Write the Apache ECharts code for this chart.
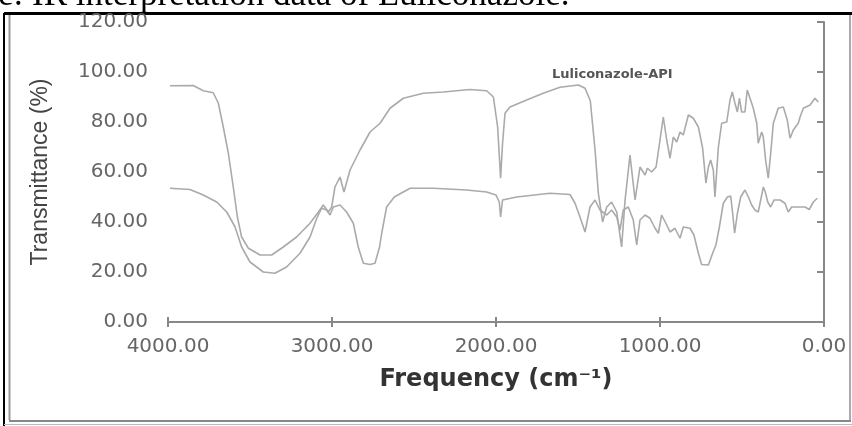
<!DOCTYPE html>
<html>
<head>
<meta charset="utf-8">
<script src="https://cdn.jsdelivr.net/npm/echarts@6/dist/echarts.min.js"></script>
<style>
  html, body { margin: 0; padding: 0; background: #fff; }
  #irChart { width: 852px; height: 426px; }
</style>
</head>
<body>
<div id="irChart"></div>
<script>
// upper trace (Luliconazole API)
const apiFreq = [3988, 3846, 3785, 3724, 3693, 3663, 3632, 3602, 3577, 3551, 3510, 3439, 3368, 3297, 3216, 3134, 3083, 3053, 3022, 3002,
  2982, 2951, 2927, 2890, 2829, 2768, 2707, 2646, 2565, 2443, 2321, 2159, 2057, 2016, 1990, 1972, 1960, 1945, 1915, 1813,
  1712, 1610, 1498, 1457, 1425, 1396, 1376, 1350, 1325, 1295, 1264, 1234, 1213, 1183, 1152, 1122, 1091, 1077, 1051, 1024,
  1000, 980, 959, 939, 919, 898, 878, 858, 827, 797, 766, 740, 720, 705, 691, 675, 665, 644, 624, 593,
  573, 559, 543, 528, 516, 502, 482, 468, 451, 431, 410, 401, 380, 370, 356, 340, 325, 309, 279, 248,
  224, 207, 187, 157, 146, 126, 85, 55, 35];
const apiT = [94.5, 94.6, 92.5, 91.7, 87.5, 78, 67.5, 54, 42, 34, 29.5, 26.8, 26.8, 30, 34, 39.5, 44, 46.8, 44, 46,
  54, 58, 52, 60.8, 68.8, 76, 79.5, 85.5, 89.5, 91.5, 92, 93, 92.5, 90, 78, 57.5, 71.5, 83.5, 86, 88.8,
  91.5, 93.9, 94.8, 93.5, 88.5, 68.8, 51.5, 40, 46, 48, 44, 30, 48.8, 66.8, 48.8, 62, 58.8, 61.5, 60, 62,
  72.8, 82, 72.8, 65.5, 74, 72, 76, 74.8, 82.8, 81.5, 78, 69.5, 55.5, 62, 64.8, 60.8, 50, 70, 79.5, 80,
  88.8, 92, 87.5, 84, 89.5, 84, 84, 92.8, 89.5, 85.5, 79.5, 71.5, 76, 74, 64.8, 57.5, 67.5, 79.5, 85.5, 86,
  80.8, 73.5, 76.8, 79.5, 82, 85.5, 86.8, 89.5, 88];

// lower trace
const lowFreq = [3988, 3866, 3785, 3703, 3642, 3591, 3551, 3500, 3419, 3348, 3277, 3195, 3134, 3093, 3063, 3033, 3012, 2992, 2951, 2911,
  2870, 2840, 2809, 2768, 2738, 2710, 2697, 2667, 2620, 2524, 2382, 2179, 2057, 2000, 1980, 1972, 1960, 1874, 1671, 1549,
  1518, 1488, 1457, 1427, 1396, 1366, 1325, 1295, 1264, 1244, 1224, 1193, 1163, 1142, 1122, 1091, 1061, 1030, 1010, 990,
  959, 939, 909, 878, 858, 817, 793, 766, 746, 705, 695, 679, 659, 638, 614, 589, 569, 557, 545, 528,
  508, 482, 461, 441, 421, 401, 386, 370, 358, 343, 325, 305, 268, 238, 218, 197, 157, 116, 90, 65, 41];
const lowT = [53.5, 53, 50.8, 48, 44, 38, 30, 24, 20, 19.5, 22, 27.5, 34, 41.5, 45.5, 44.8, 42.8, 46, 46.8, 44,
  39.5, 30, 23.5, 23, 23.5, 30, 35.5, 46, 50, 53.5, 53.5, 52.8, 52, 50.8, 48, 42, 48.8, 50, 51.5, 51,
  47.5, 42, 36, 46, 48.8, 44.8, 42.8, 44.8, 42, 36.8, 44.8, 46, 40.8, 30.8, 40.8, 42.8, 41.5, 37.5, 35.5, 42.8,
  38.8, 36, 37.5, 33.5, 38, 37.5, 34.8, 27.5, 23, 22.8, 23.2, 27.5, 30.8, 38, 47.5, 50, 50.4, 43.5, 35.5, 43.5,
  50, 52.8, 50, 46.8, 44.8, 44, 48.8, 54, 52, 48, 46, 48.8, 48.8, 47.5, 44, 46, 46, 46, 45, 48, 49.5];

const chart = echarts.init(document.getElementById('irChart'));
const zip = (xs, ys) => xs.map((x, i) => [x, ys[i]]);
const fmt = v => v.toFixed(2);
const lineColor = '#aaa';

const option = {
  backgroundColor: '#fff',
  animation: false,
  grid: { left: 168, right: 28, top: 22, bottom: 104 },
  title: {
    text: 'Luliconazole-API',
    left: 547,
    top: 63,
    textStyle: { fontFamily: 'DejaVu Sans', fontSize: 13, fontWeight: 'bold', color: '#555' },
  },
  xAxis: [
    {
      type: 'value',
      inverse: true,
      min: 0,
      max: 4000,
      interval: 1000,
      name: 'Frequency (cm\u207B\u00B9)',
      nameLocation: 'middle',
      nameGap: 46,
      nameTextStyle: { fontFamily: 'DejaVu Sans', fontSize: 24, fontWeight: 'bold', color: '#333' },
      axisLine: { lineStyle: { color: '#888', width: 2 } },
      axisTick: { length: 5, lineStyle: { color: '#888', width: 2 } },
      axisLabel: { formatter: fmt, margin: 15, fontFamily: 'DejaVu Sans', fontSize: 20, color: '#666' },
      splitLine: { show: false },
    },
    {
      // inner half of the crossing ticks
      type: 'value',
      inverse: true,
      position: 'bottom',
      min: 0,
      max: 4000,
      interval: 1000,
      axisLine: { show: false },
      axisTick: { inside: true, length: 5, lineStyle: { color: '#888', width: 2 } },
      axisLabel: { show: false },
      splitLine: { show: false },
    },
  ],
  yAxis: {
    type: 'value',
    min: 0,
    max: 120,
    interval: 20,
    name: 'Transmittance (%)',
    nameLocation: 'middle',
    nameGap: 116,
    nameTextStyle: { fontFamily: 'Liberation Sans', fontSize: 23, color: '#444' },
    axisLine: { show: true, lineStyle: { color: '#888', width: 2 } },
    axisTick: { show: true, length: 7, lineStyle: { color: '#888', width: 2 } },
    axisLabel: { formatter: fmt, margin: 20, fontFamily: 'DejaVu Sans', fontSize: 20, color: '#666' },
    splitLine: { show: false },
  },
  series: [
    {
      type: 'line',
      data: zip(apiFreq, apiT),
      showSymbol: false,
      lineStyle: { color: lineColor, width: 1.6 },
    },
    {
      type: 'line',
      data: zip(lowFreq, lowT),
      showSymbol: false,
      lineStyle: { color: lineColor, width: 1.6 },
    },
  ],
  graphic: [
    // caption cut off at the top of the picture
    {
      type: 'text',
      left: -2,
      top: -22,
      style: { text: 'e: IR interpretation data of Luliconazole.', font: '35px "Liberation Serif"', fill: '#000' },
    },
    // frame
    { type: 'line', shape: { x1: 4, y1: 13.5, x2: 852, y2: 13.5 }, style: { stroke: '#000', lineWidth: 3 } },
    { type: 'rect', shape: { x: 0, y: 15, width: 852, height: 6 }, style: { fill: '#fff' }, z: -1 },
    { type: 'line', shape: { x1: 4, y1: 13, x2: 4, y2: 426 }, style: { stroke: '#000', lineWidth: 2 } },
    { type: 'line', shape: { x1: 9.5, y1: 15, x2: 9.5, y2: 420 }, style: { stroke: '#999', lineWidth: 2 } },
    { type: 'line', shape: { x1: 850, y1: 15, x2: 850, y2: 421 }, style: { stroke: '#aaa', lineWidth: 2 } },
    { type: 'line', shape: { x1: 9, y1: 421, x2: 851, y2: 421 }, style: { stroke: '#888', lineWidth: 2 } },
    { type: 'line', shape: { x1: 4, y1: 424.5, x2: 852, y2: 424.5 }, style: { stroke: '#bbb', lineWidth: 1 } },
  ],
};
chart.setOption(option);
</script>
</body>
</html>
